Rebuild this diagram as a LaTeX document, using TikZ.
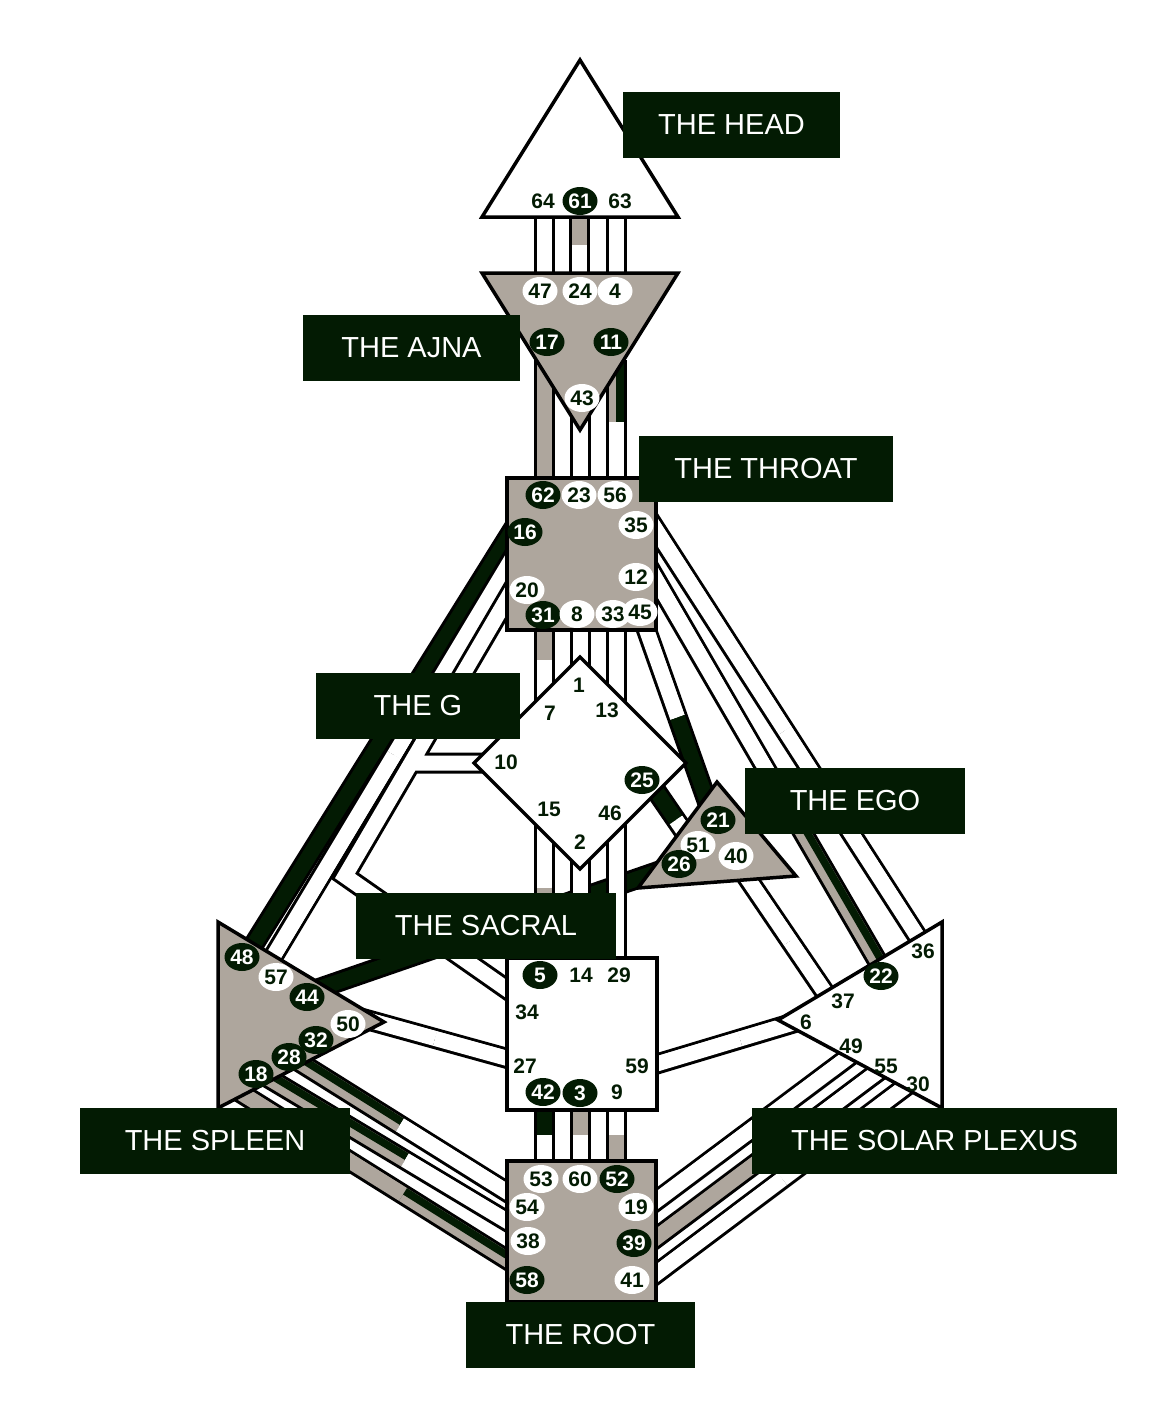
\documentclass[tikz,border=0pt]{standalone}
\usepackage{fontspec}
\setmainfont{Liberation Sans}
\usetikzlibrary{calc,shapes.geometric}
\definecolor{dk}{HTML}{031B03}
\definecolor{gr}{HTML}{AEA69D}
\newcommand\halfch[4]{%
  \draw[line width=15pt,#3] (#1)--(#2);
  \draw[line width=7.5pt,#4] ($(#1)!3.75pt!90:(#2)$)--($(#2)!3.75pt!-90:(#1)$);}
\newcommand\chan[6]{%
  \draw[line width=21pt,black] (#1)--(#2);
  \coordinate (mid) at ($(#1)!0.5!(#2)$);
  \halfch{#1}{mid}{#3}{#4}%
  \halfch{mid}{#2}{#5}{#6}}
\newcommand\gfont{\bfseries\fontsize{21}{21}\selectfont}
\tikzset{
  ctr/.style={draw=black,line width=3.5pt,line join=miter},
  lab/.style={fill=dk,text=white,font=\fontsize{29}{30}\selectfont,inner sep=0pt,minimum height=66},
  gd/.style={ellipse,fill=dk,text=white,inner sep=0pt,minimum width=35,minimum height=28,font=\gfont},
  gw/.style={ellipse,fill=white,text=dk,inner sep=0pt,minimum width=35,minimum height=28,font=\gfont},
  gp/.style={text=dk,inner sep=0pt,font=\gfont},
}
\begin{document}
\begin{tikzpicture}[x=1pt,y=-1pt]
\useasboundingbox (0,0) rectangle (1158,1424);
\fill[white] (0,0) rectangle (1158,1424);
% channel end points
\coordinate (a64) at (544,205); \coordinate (a47) at (544,285);
\coordinate (a61) at (579,205); \coordinate (a24) at (579,285);
\coordinate (a63) at (616,205); \coordinate (a4) at (616,285);
\coordinate (a17) at (544,345); \coordinate (a62) at (544,490);
\coordinate (a43) at (580,405); \coordinate (a23) at (580,490);
\coordinate (a11) at (616,360); \coordinate (a56) at (616,484);
\coordinate (a31) at (544,600); \coordinate (a7) at (544,720);
\coordinate (a8) at (580,600); \coordinate (a1) at (580,700);
\coordinate (a33) at (616,600); \coordinate (a13) at (616,720);
\coordinate (a15) at (544,815); \coordinate (a5) at (544,960);
\coordinate (a2) at (580,850); \coordinate (a14) at (580,970);
\coordinate (a46) at (616,820); \coordinate (a29) at (616,970);
\coordinate (a42) at (544,1100); \coordinate (a53) at (544,1170);
\coordinate (a3) at (580,1100); \coordinate (a60) at (580,1170);
\coordinate (a9) at (616,1100); \coordinate (a52) at (616,1170);
\coordinate (a16) at (525,510); \coordinate (a48) at (244,960);
\coordinate (a20) at (520,545); \coordinate (a57) at (268,965);
\coordinate (b20) at (525,568); \coordinate (bk) at (345,876); \coordinate (b34) at (515,995);
\coordinate (b10a) at (411,763); \coordinate (b10) at (495,763);
\coordinate (a35) at (640,505); \coordinate (a36) at (930,956);
\coordinate (a12) at (640,552); \coordinate (a22) at (900,1000);
\coordinate (a45) at (643,620); \coordinate (a21) at (712,815);
\coordinate (a25) at (652,785); \coordinate (a51) at (700,855);
\coordinate (a26) at (668,868); \coordinate (a44) at (300,995);
\coordinate (a40) at (735,860); \coordinate (a37) at (845,1022);
\coordinate (a59) at (650,1066); \coordinate (a6) at (830,1012);
\coordinate (a50) at (350,1015); \coordinate (a27) at (520,1062);
\coordinate (a32) at (285,1053); \coordinate (a54) at (515,1197);
\coordinate (a28) at (250,1067); \coordinate (a38) at (560,1253);
\coordinate (a18) at (225,1083); \coordinate (a58) at (581,1306);
\coordinate (a19) at (640,1213); \coordinate (a49) at (870,1041);
\coordinate (a39) at (640,1250); \coordinate (a55) at (895,1059);
\coordinate (a41) at (640,1286); \coordinate (a30) at (925,1072);
% channels
\chan{a64}{a47}{white}{white}{white}{white}
\chan{a61}{a24}{gr}{gr}{white}{white}
\chan{a63}{a4}{white}{white}{white}{white}
\chan{a17}{a62}{gr}{gr}{gr}{gr}
\chan{a43}{a23}{white}{white}{white}{white}
\chan{a11}{a56}{gr}{dk}{white}{white}
\chan{a31}{a7}{gr}{gr}{white}{white}
\chan{a8}{a1}{white}{white}{white}{white}
\chan{a33}{a13}{white}{white}{white}{white}
\chan{a26}{a44}{dk}{dk}{dk}{dk}
\chan{a15}{a5}{white}{white}{gr}{gr}
\chan{a2}{a14}{white}{white}{white}{white}
\chan{a46}{a29}{white}{white}{white}{white}
\chan{a42}{a53}{dk}{dk}{white}{white}
\chan{a3}{a60}{gr}{gr}{white}{white}
\chan{a9}{a52}{white}{white}{gr}{gr}
\chan{a16}{a48}{dk}{dk}{dk}{dk}
\chan{a20}{a57}{white}{white}{white}{white}
\draw[line width=21pt,black,line join=miter] (b20)--(bk)--(b34) (b10a)--(b10);
\draw[line width=15pt,white,line join=miter] (b20)--(bk)--(b34) (b10a)--(b10);
\chan{a35}{a36}{white}{white}{white}{white}
\chan{a12}{a22}{white}{white}{gr}{dk}
\chan{a45}{a21}{white}{white}{dk}{dk}
\chan{a25}{a51}{dk}{dk}{white}{white}
\chan{a40}{a37}{white}{white}{white}{white}
\chan{a59}{a6}{white}{white}{white}{white}
\chan{a50}{a27}{white}{white}{white}{white}
\chan{a32}{a54}{gr}{dk}{white}{white}
\chan{a28}{a38}{gr}{dk}{white}{white}
\chan{a18}{a58}{gr}{gr}{gr}{dk}
\chan{a19}{a49}{white}{white}{white}{white}
\chan{a39}{a55}{gr}{gr}{white}{white}
\chan{a41}{a30}{white}{white}{white}{white}
% centers
\draw[ctr,fill=white] (580,60) -- (678,217) -- (482,217) -- cycle;
\draw[ctr,fill=gr] (482,273) -- (678,273) -- (580,430) -- cycle;
\draw[ctr,fill=gr] (507,478) rectangle (656,630);
\draw[ctr,fill=white] (580,657) -- (686,763) -- (580,869) -- (474,763) -- cycle;
\draw[ctr,fill=gr] (717,782) -- (796,876) -- (638,888) -- cycle;
\draw[ctr,fill=white] (507,958) rectangle (657,1110);
\draw[ctr,fill=gr] (218,922) -- (384,1022) -- (218,1108) -- cycle;
\draw[ctr,fill=white] (942,922) -- (942,1108) -- (778,1020) -- cycle;
\draw[ctr,fill=gr] (507,1161) rectangle (656,1302);
% gates
\node[gp] (g64) at (543,201) {64};
\node[gd] (g61) at (580,201) {61};
\node[gp] (g63) at (620,201) {63};
\node[gw] (g47) at (540,291) {47};
\node[gw] (g24) at (580,291) {24};
\node[gw] (g4) at (615,291) {4};
\node[gd] (g17) at (547,342) {17};
\node[gd] (g11) at (611,342) {11};
\node[gw] (g43) at (582,398) {43};
\node[gd] (g62) at (543,495) {62};
\node[gw] (g23) at (579,495) {23};
\node[gw] (g56) at (615,495) {56};
\node[gd] (g16) at (525,532) {16};
\node[gw] (g35) at (636,525) {35};
\node[gw] (g20) at (527,590) {20};
\node[gw] (g12) at (636,577) {12};
\node[gd] (g31) at (543,615) {31};
\node[gw] (g8) at (577,614) {8};
\node[gw] (g33) at (613,614) {33};
\node[gw] (g45) at (640,612) {45};
\node[gp] (g1) at (579,685) {1};
\node[gp] (g7) at (550,713) {7};
\node[gp] (g13) at (607,710) {13};
\node[gp] (g10) at (506,762) {10};
\node[gd] (g25) at (642,780) {25};
\node[gp] (g15) at (549,809) {15};
\node[gp] (g46) at (610,813) {46};
\node[gp] (g2) at (580,842) {2};
\node[gd] (g21) at (718,820) {21};
\node[gw] (g51) at (698,845) {51};
\node[gd] (g26) at (679,864) {26};
\node[gw] (g40) at (736,856) {40};
\node[gd] (g5) at (540,975) {5};
\node[gp] (g14) at (581,975) {14};
\node[gp] (g29) at (619,975) {29};
\node[gp] (g34) at (527,1012) {34};
\node[gp] (g27) at (525,1066) {27};
\node[gp] (g59) at (637,1066) {59};
\node[gd] (g42) at (543,1092) {42};
\node[gd] (g3) at (580,1093) {3};
\node[gp] (g9) at (617,1092) {9};
\node[gd] (g48) at (242,957) {48};
\node[gw] (g57) at (276,977) {57};
\node[gd] (g44) at (307,997) {44};
\node[gw] (g50) at (348,1024) {50};
\node[gd] (g32) at (316,1040) {32};
\node[gd] (g28) at (289,1057) {28};
\node[gd] (g18) at (256,1074) {18};
\node[gp] (g36) at (923,951) {36};
\node[gd] (g22) at (881,976) {22};
\node[gp] (g37) at (843,1001) {37};
\node[gp] (g6) at (806,1022) {6};
\node[gp] (g49) at (851,1046) {49};
\node[gp] (g55) at (886,1066) {55};
\node[gp] (g30) at (918,1084) {30};
\node[gw] (g53) at (541,1179) {53};
\node[gw] (g60) at (580,1179) {60};
\node[gd] (g52) at (617,1179) {52};
\node[gw] (g54) at (527,1207) {54};
\node[gw] (g19) at (636,1207) {19};
\node[gw] (g38) at (528,1241) {38};
\node[gd] (g39) at (634,1243) {39};
\node[gd] (g58) at (527,1280) {58};
\node[gw] (g41) at (632,1280) {41};
% labels
\node[lab,minimum width=217] (lhead) at (731.5,125) {THE HEAD};
\node[lab,minimum width=217] (lajna) at (411.5,348) {THE AJNA};
\node[lab,minimum width=254] (lthroat) at (766,469) {THE THROAT};
\node[lab,minimum width=204] (lg) at (418,706) {THE G};
\node[lab,minimum width=220] (lego) at (855,801) {THE EGO};
\node[lab,minimum width=260] (lsacral) at (486,926) {THE SACRAL};
\node[lab,minimum width=270] (lspleen) at (215,1141) {THE SPLEEN};
\node[lab,minimum width=365] (lsolar) at (934.5,1141) {THE SOLAR PLEXUS};
\node[lab,minimum width=229] (lroot) at (580.5,1335) {THE ROOT};
\end{tikzpicture}
\end{document}
